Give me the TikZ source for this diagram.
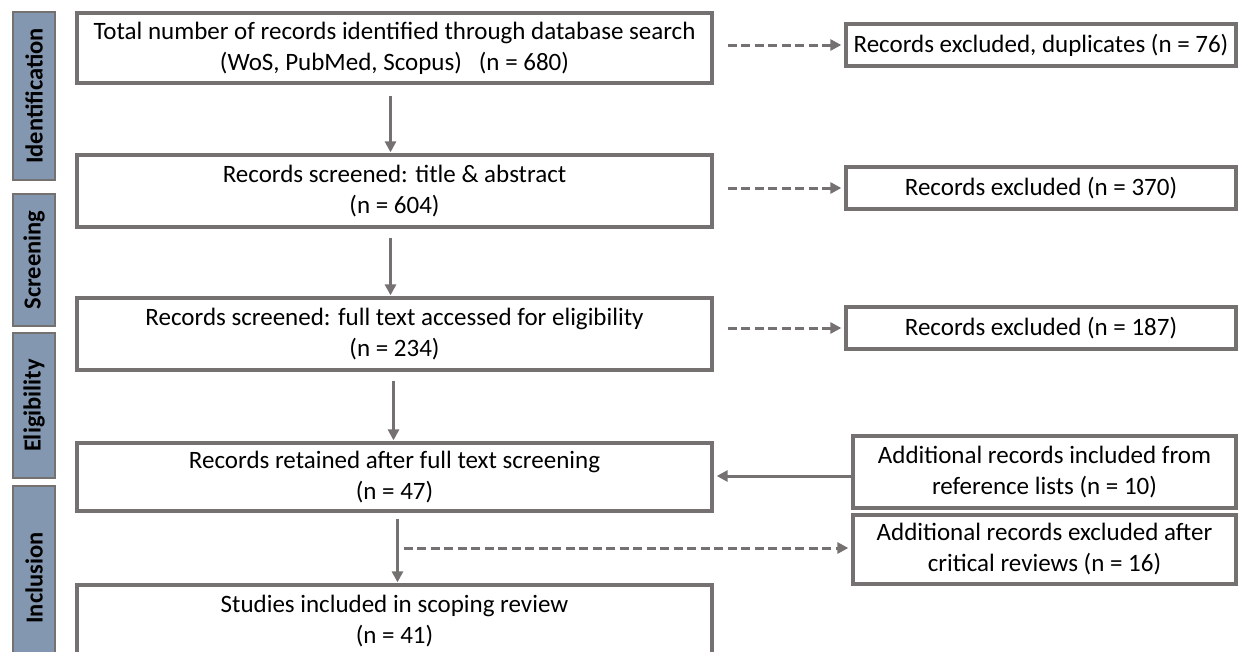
\documentclass[tikz,border=0pt]{standalone}
\usepackage{fontspec}
\setmainfont{Carlito}
\usetikzlibrary{arrows.meta,calc}
\definecolor{lgray}{HTML}{767171}
\definecolor{lblue}{HTML}{8497B0}
\tikzset{
  box/.style={draw=lgray, line width=3.3pt, fill=white, align=center, inner sep=0pt,
    font=\fontsize{25}{31}\selectfont, text=black},
  mainbox/.style={box, minimum width=635pt, minimum height=70pt},
  sidebox/.style={box, minimum width=383pt},
  phase/.style={draw=lgray, line width=2.6pt, fill=lblue, rotate=90, inner sep=0pt,
    minimum height=42pt, font=\fontsize{24.5}{26}\selectfont\bfseries, text=black},
  arr/.style={draw=lgray, line width=3pt, -{Triangle[length=11pt,width=11pt]}},
  darr/.style={arr, dash pattern=on 9pt off 4.5pt},
}
\begin{document}
\begin{tikzpicture}[x=1pt,y=-1pt]
\useasboundingbox (0,0) rectangle (1239,651);
% phase labels
\node[phase, minimum width=168pt] (pid) at (34,96) {Identification};
\node[phase, minimum width=132pt] (psc) at (34,260) {Screening};
\node[phase, minimum width=145pt] (pel) at (34,405.5) {Eligibility};
\node[phase, minimum width=184pt] (pin) at (34,578) {Inclusion};
% main column
\node[mainbox] (b1) at (394.5,48) {Total number of records identified through database search\\(WoS, PubMed, Scopus)\ \ \ (n = 680)};
\node[mainbox, minimum height=72pt] (b2) at (394.5,191) {Records screened: title \& abstract\\(n = 604)};
\node[mainbox, minimum height=72pt] (b3) at (394.5,334) {Records screened: full text accessed for eligibility\\(n = 234)};
\node[mainbox, minimum height=68pt] (b4) at (394.5,477) {Records retained after full text screening\\(n = 47)};
\node[mainbox, minimum height=72pt] (b5) at (394.5,621) {Studies included in scoping review\\(n = 41)};
% right column
\node[sidebox, minimum width=390pt, minimum height=42pt] (r1) at (1041,45) {Records excluded, duplicates (n = 76)};
\node[sidebox, minimum width=390pt, minimum height=42pt] (r2) at (1041,188) {Records excluded (n = 370)};
\node[sidebox, minimum width=390pt, minimum height=42pt] (r3) at (1041,328) {Records excluded (n = 187)};
\node[sidebox, minimum height=72pt] (r4) at (1044.5,472) {Additional records included from\\reference lists (n = 10)};
\node[sidebox, minimum height=69pt] (r5) at (1044.5,549.5) {Additional records excluded after\\critical reviews (n = 16)};
% vertical arrows
\draw[arr, shorten <=11pt, shorten >=1pt] ([xshift=-4pt]b1.south) -- ([xshift=-4pt]b2.north);
\draw[arr, shorten <=9pt, shorten >=1pt] ([xshift=-4pt]b2.south) -- ([xshift=-4pt]b3.north);
\draw[arr, shorten <=9pt, shorten >=1pt] ([xshift=-1pt]b3.south) -- ([xshift=-1pt]b4.north);
\draw[arr, shorten <=6pt, shorten >=1pt] ([xshift=3pt]b4.south) -- ([xshift=3pt]b5.north);
% dashed exclusions
\draw[darr, shorten <=14pt, shorten >=3pt] (b1.east |- r1.west) -- (r1.west);
\draw[darr, shorten <=14pt, shorten >=3pt] (b2.east |- r2.west) -- (r2.west);
\draw[darr, shorten <=14pt, shorten >=3pt] (b3.east |- r3.west) -- (r3.west);
\coordinate (split) at ([xshift=3pt]$(b4.south)!0.5!(b5.north)$);
\draw[darr, shorten <=6pt, shorten >=3pt] (split) -- (split -| r5.west);
% additional records
\draw[arr, shorten <=0pt, shorten >=3pt] (r4.west |- 0,476) -- (b4.east |- 0,476);
\end{tikzpicture}
\end{document}
